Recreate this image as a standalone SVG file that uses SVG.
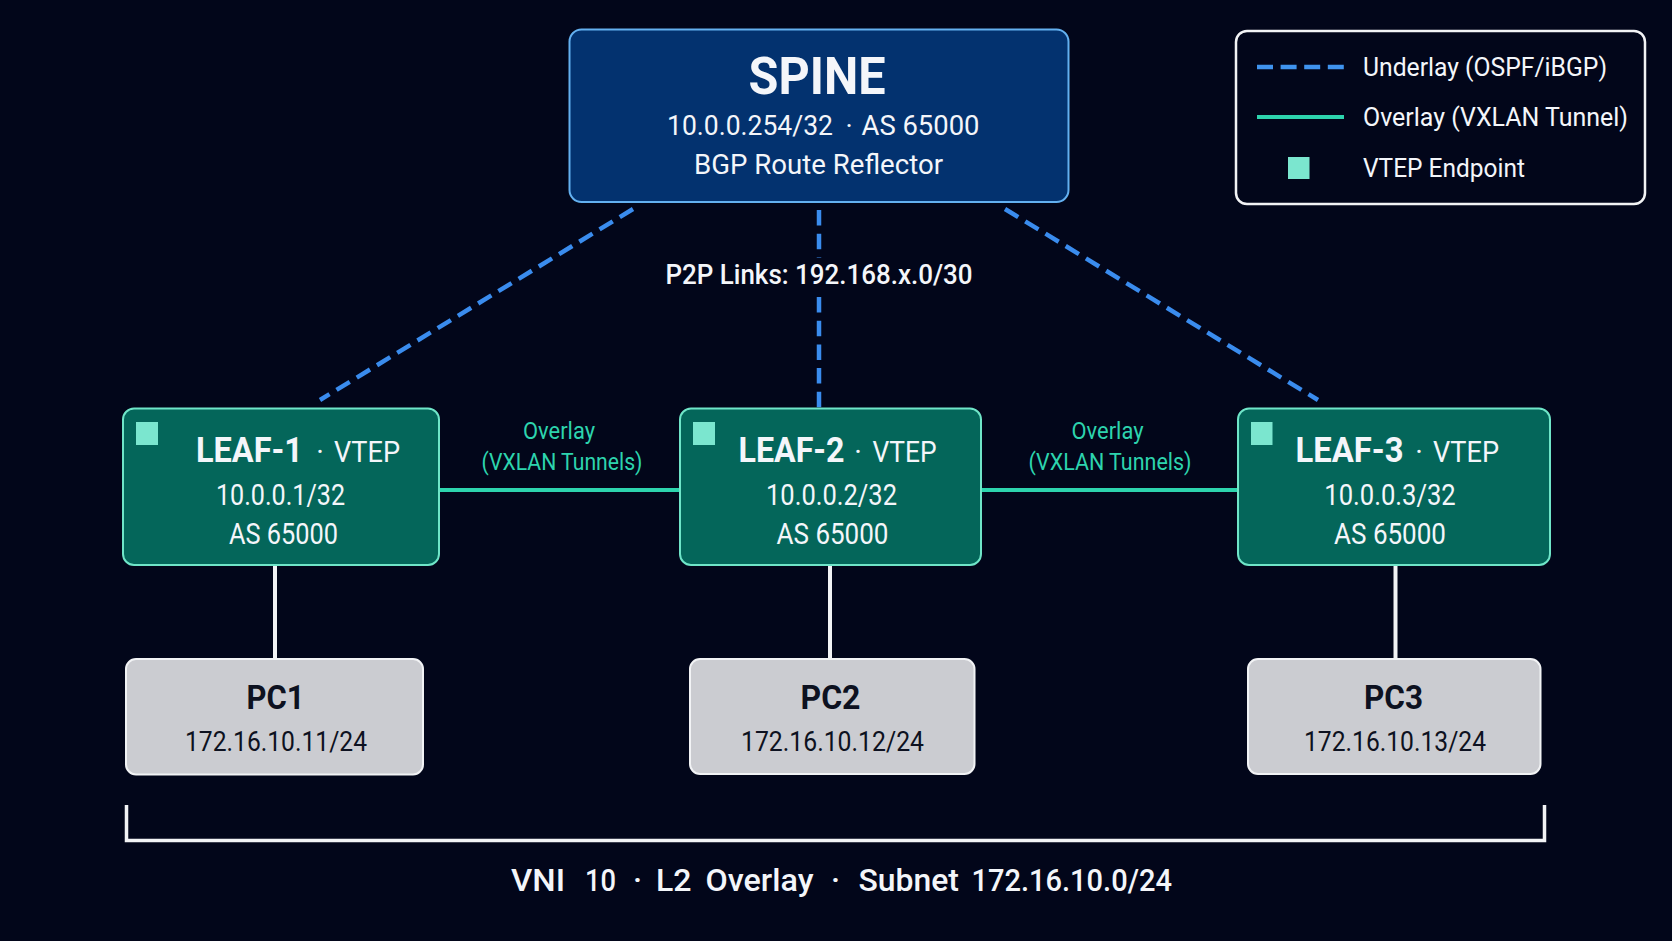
<svg xmlns="http://www.w3.org/2000/svg" width="1672" height="941" viewBox="0 0 1672 941">
<style>
text{font-family:"Roboto","Liberation Sans",sans-serif;fill:#f4f6fa;text-anchor:middle}
.start{text-anchor:start}
.spine{fill:#03326f;stroke:#63b0f0;stroke-width:2}
.leaf{fill:#04665a;stroke:#6fe5c8;stroke-width:2}
.pc{fill:#cbccd1;stroke:#f2f3f5;stroke-width:2}
.sq{fill:#7be6cf}
.under{stroke:#3a8cee;stroke-width:4.5;stroke-dasharray:15.5 8.2;fill:none}
.over{stroke:#2dd4ae;stroke-width:4;fill:none}
.acc{stroke:#f2f3f5;stroke-width:4;fill:none}
.hl{font-size:35px;font-weight:700}
.sub{font-size:29px;font-weight:400}
.dark{fill:#0d1120}
.pct{font-size:34px;font-weight:700}
.pci{font-size:28px}
.ovl{font-size:23px;fill:#2dd4ae}
.leg{font-size:25.500px}
</style>
<rect width="1672" height="941" fill="#02061a"/>
<g id="connectors">
<line class="under" x1="633" y1="209" x2="320" y2="400"/>
<line class="under" x1="819" y1="210" x2="819" y2="258"/>
<line class="under" x1="819" y1="297" x2="819" y2="408"/>
<line class="under" x1="1005" y1="209" x2="1318" y2="400"/>
<line class="over" x1="439" y1="490" x2="680" y2="490"/>
<line class="over" x1="981" y1="490" x2="1238" y2="490"/>
<line class="acc" x1="275" y1="565" x2="275" y2="659"/>
<line class="acc" x1="830" y1="565" x2="830" y2="659"/>
<line class="acc" x1="1395.500" y1="565" x2="1395.500" y2="659"/>
</g>
<text x="819" y="284" font-size="27" textLength="307" lengthAdjust="spacingAndGlyphs" font-weight="500">P2P Links: 192.168.x.0/30</text>
<text class="ovl" x="559" y="439" textLength="72" lengthAdjust="spacingAndGlyphs">Overlay</text>
<text class="ovl" x="562" y="470" textLength="161" lengthAdjust="spacingAndGlyphs">(VXLAN Tunnels)</text>
<text class="ovl" x="1107.500" y="439" textLength="72" lengthAdjust="spacingAndGlyphs">Overlay</text>
<text class="ovl" x="1110" y="470" textLength="163" lengthAdjust="spacingAndGlyphs">(VXLAN Tunnels)</text>
<g id="spine">
<rect class="spine" x="569.500" y="29.500" width="499" height="172.500" rx="12"/>
<text x="817" y="94" font-size="51" font-weight="700" textLength="137" lengthAdjust="spacingAndGlyphs">SPINE</text>
<text class="start" y="135" font-size="27.500"><tspan x="667" textLength="166" lengthAdjust="spacingAndGlyphs">10.0.0.254/32</tspan> <tspan x="845.500">·</tspan> <tspan x="861.500" textLength="118" lengthAdjust="spacingAndGlyphs">AS 65000</tspan></text>
<text x="818.500" y="174" font-size="28" textLength="249" lengthAdjust="spacingAndGlyphs">BGP Route Reflector</text>
</g>
<g id="leaf1">
<rect class="leaf" x="123" y="408.500" width="316" height="156.500" rx="11"/>
<rect class="sq" x="136" y="422" width="22" height="23"/>
<text class="start hl" x="196" y="462" textLength="107" lengthAdjust="spacingAndGlyphs">LEAF-1</text>
<text class="sub" x="320" y="462">·</text>
<text class="start sub" x="334" y="462" textLength="66" lengthAdjust="spacingAndGlyphs">VTEP</text>
<text class="sub" x="280.500" y="505" textLength="129" lengthAdjust="spacingAndGlyphs">10.0.0.1/32</text>
<text class="sub" x="283.500" y="544" textLength="109" lengthAdjust="spacingAndGlyphs">AS 65000</text>
</g>
<g id="leaf2">
<rect class="leaf" x="680" y="408.500" width="301" height="156.500" rx="11"/>
<rect class="sq" x="693" y="422" width="22" height="23"/>
<text class="start hl" x="738.500" y="462" textLength="106" lengthAdjust="spacingAndGlyphs">LEAF-2</text>
<text class="sub" x="858" y="462">·</text>
<text class="start sub" x="872.500" y="462" textLength="64" lengthAdjust="spacingAndGlyphs">VTEP</text>
<text class="sub" x="831.500" y="505" textLength="131" lengthAdjust="spacingAndGlyphs">10.0.0.2/32</text>
<text class="sub" x="832.500" y="544" textLength="112" lengthAdjust="spacingAndGlyphs">AS 65000</text>
</g>
<g id="leaf3">
<rect class="leaf" x="1238" y="408.500" width="312" height="156.500" rx="11"/>
<rect class="sq" x="1251" y="422" width="21.500" height="23"/>
<text class="start hl" x="1295.500" y="462" textLength="108" lengthAdjust="spacingAndGlyphs">LEAF-3</text>
<text class="sub" x="1419" y="462">·</text>
<text class="start sub" x="1433" y="462" textLength="66" lengthAdjust="spacingAndGlyphs">VTEP</text>
<text class="sub" x="1390" y="505" textLength="131.500" lengthAdjust="spacingAndGlyphs">10.0.0.3/32</text>
<text class="sub" x="1390" y="544" textLength="112" lengthAdjust="spacingAndGlyphs">AS 65000</text>
</g>
<g id="pc1">
<rect class="pc" x="126" y="659" width="297" height="115.500" rx="10"/>
<text class="pct dark" x="275.500" y="709" textLength="58" lengthAdjust="spacingAndGlyphs">PC1</text>
<text class="pci dark" x="276" y="750.500" textLength="182" lengthAdjust="spacingAndGlyphs">172.16.10.11/24</text>
</g>
<g id="pc2">
<rect class="pc" x="690" y="659" width="284.500" height="115" rx="10"/>
<text class="pct dark" x="830.500" y="709" textLength="60" lengthAdjust="spacingAndGlyphs">PC2</text>
<text class="pci dark" x="832.500" y="750.500" textLength="183" lengthAdjust="spacingAndGlyphs">172.16.10.12/24</text>
</g>
<g id="pc3">
<rect class="pc" x="1248" y="659" width="292.500" height="115" rx="10"/>
<text class="pct dark" x="1393.500" y="709" textLength="59" lengthAdjust="spacingAndGlyphs">PC3</text>
<text class="pci dark" x="1395" y="750.500" textLength="182" lengthAdjust="spacingAndGlyphs">172.16.10.13/24</text>
</g>
<g id="legend">
<rect x="1236" y="31" width="409" height="173" rx="11" fill="#02061a" stroke="#f2f3f5" stroke-width="2.500"/>
<line x1="1257" y1="67" x2="1344" y2="67" stroke="#3f93ee" stroke-width="4.500" stroke-dasharray="16 7.600"/>
<line x1="1257" y1="117" x2="1344" y2="117" class="over"/>
<rect class="sq" x="1288" y="157" width="21.500" height="22"/>
<text class="start leg" x="1363" y="76" textLength="244" lengthAdjust="spacingAndGlyphs">Underlay (OSPF/iBGP)</text>
<text class="start leg" x="1363" y="126" textLength="265" lengthAdjust="spacingAndGlyphs">Overlay (VXLAN Tunnel)</text>
<text class="start leg" x="1363" y="177" textLength="162" lengthAdjust="spacingAndGlyphs">VTEP Endpoint</text>
</g>
<g id="vni-bracket">
<path d="M126.500 805V840.500H1544.500V805" fill="none" stroke="#f2f3f5" stroke-width="3.500"/>
<text class="start" y="891" font-size="32" font-weight="500"><tspan x="511" textLength="54" lengthAdjust="spacingAndGlyphs">VNI</tspan> <tspan x="585" textLength="31" lengthAdjust="spacingAndGlyphs">10</tspan> <tspan x="633">·</tspan> <tspan x="656" textLength="35.500" lengthAdjust="spacingAndGlyphs">L2</tspan> <tspan x="705.500" textLength="108" lengthAdjust="spacingAndGlyphs">Overlay</tspan> <tspan x="831">·</tspan> <tspan x="858.500" textLength="100.500" lengthAdjust="spacingAndGlyphs">Subnet</tspan> <tspan x="971.500" textLength="200.500" lengthAdjust="spacingAndGlyphs">172.16.10.0/24</tspan></text>
</g>
</svg>
